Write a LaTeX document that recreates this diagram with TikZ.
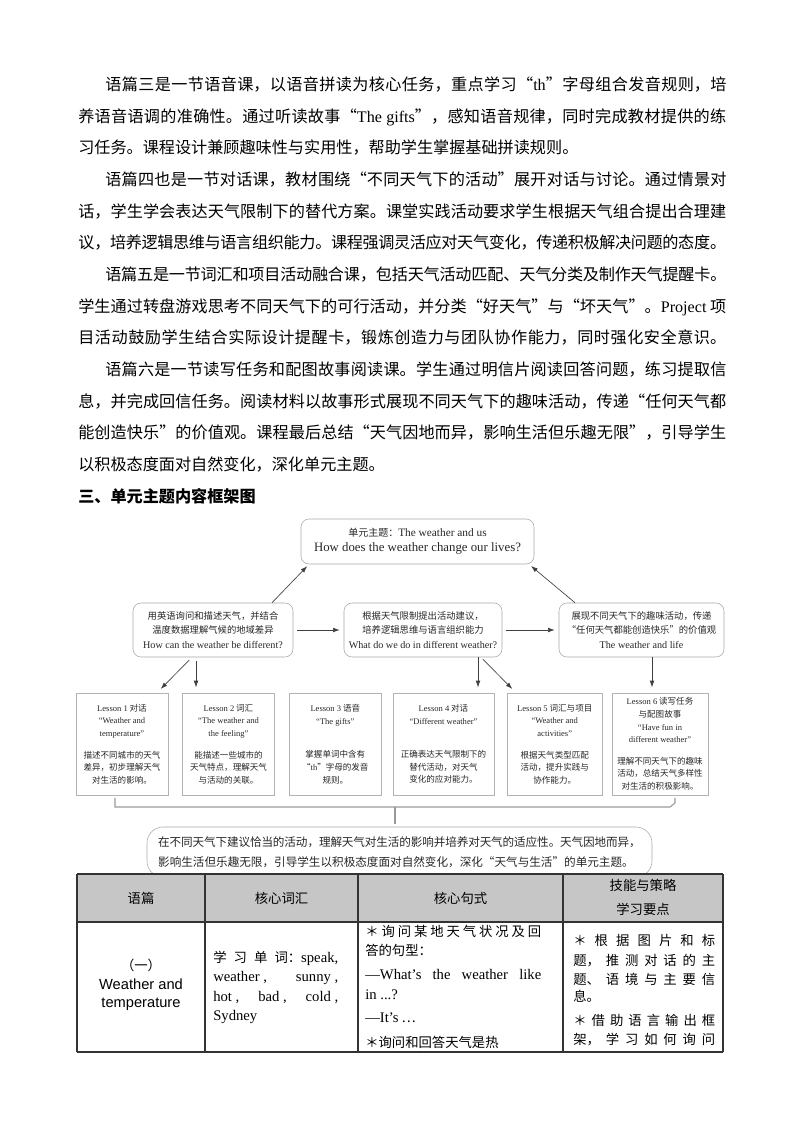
\documentclass[tikz,border=0pt]{standalone}
\usepackage{fontspec}
\setmainfont{Noto Sans CJK SC}
\newfontfamily\en{Liberation Serif}
\newfontfamily\ens{Liberation Sans}
\usetikzlibrary{arrows.meta}
\XeTeXlinebreaklocale "zh"
\XeTeXlinebreakskip=0pt plus 2pt minus 0.4pt
\newcommand\jl[2]{\parbox[b]{#1}{\parfillskip=0pt\relax\noindent #2}}
\newcommand\bl[5]{\node[anchor=base west,inner sep=0pt] (#1) at (#2,#3) {\fontsize{12.1}{14}\selectfont #4{#5}};}
\tikzset{
  rbox/.style={draw=gray!70,rounded corners=6pt,align=center,inner sep=1pt,text=black!85},
  lbox/.style={draw=gray!60,align=center,inner sep=1pt,text=black!85,font=\fontsize{6.4}{9.4}\selectfont},
  arr/.style={-{Latex[length=5pt,width=3.5pt]},draw=black!75,line width=0.5pt},
  brk/.style={draw=gray!80,line width=0.8pt},
  cell/.style={anchor=base west,inner sep=0pt,font=\fontsize{10}{12}\selectfont}
}
\begin{document}
\begin{tikzpicture}[x=0.75pt,y=-0.75pt]
\useasboundingbox (0,0) rectangle (800,1132);
% body text
\bl{p1}{105}{90}{\jl{466pt}}{语篇三是一节语音课，以语音拼读为核心任务，重点学习“{\en th}”字母组合发音规则，培}
\bl{p2}{78}{122}{\jl{486pt}}{养语音语调的准确性。通过听读故事“{\en The gifts}”，感知语音规律，同时完成教材提供的练}
\bl{p3}{78}{153}{}{习任务。课程设计兼顾趣味性与实用性，帮助学生掌握基础拼读规则。}
\bl{p4}{105}{185}{\jl{466pt}}{语篇四也是一节对话课，教材围绕“不同天气下的活动”展开对话与讨论。通过情景对}
\bl{p5}{78}{217}{\jl{486pt}}{话，学生学会表达天气限制下的替代方案。课堂实践活动要求学生根据天气组合提出合理建}
\bl{p6}{78}{248}{\jl{486pt}}{议，培养逻辑思维与语言组织能力。课程强调灵活应对天气变化，传递积极解决问题的态度。}
\bl{p7}{105}{280}{\jl{466pt}}{语篇五是一节词汇和项目活动融合课，包括天气活动匹配、天气分类及制作天气提醒卡。}
\bl{p8}{78}{312}{\jl{486pt}}{学生通过转盘游戏思考不同天气下的可行活动，并分类“好天气”与“坏天气”。{\en Project} 项}
\bl{p9}{78}{343}{\jl{486pt}}{目活动鼓励学生结合实际设计提醒卡，锻炼创造力与团队协作能力，同时强化安全意识。}
\bl{p10}{105}{375}{\jl{466pt}}{语篇六是一节读写任务和配图故事阅读课。学生通过明信片阅读回答问题，练习提取信}
\bl{p11}{78}{407}{\jl{486pt}}{息，并完成回信任务。阅读材料以故事形式展现不同天气下的趣味活动，传递“任何天气都}
\bl{p12}{78}{438}{\jl{486pt}}{能创造快乐”的价值观。课程最后总结“天气因地而异，影响生活但乐趣无限”，引导学生}
\bl{p13}{78}{470}{}{以积极态度面对自然变化，深化单元主题。}
\bl{p14}{78}{502}{\bfseries}{三、单元主题内容框架图}
% diagram boxes
\node[rbox,minimum width=174.75pt,minimum height=33.75pt] (top) at (417.5,541.5)
  {{\fontsize{7.5}{13}\selectfont 单元主题：{\en\fontsize{8.5}{13}\selectfont The weather and us}}\\[-1pt]
   {\en\fontsize{9.6}{12}\selectfont How does the weather change our lives?}};
\node[rbox,minimum width=120pt,minimum height=40.5pt,font=\fontsize{7}{11}\selectfont] (lb) at (213,630)
  {用英语询问和描述天气，并结合\\温度数据理解气候的地域差异\\{\en\fontsize{7.6}{11}\selectfont How can the weather be different?}};
\node[rbox,minimum width=118.5pt,minimum height=40.5pt,font=\fontsize{7}{11}\selectfont] (mb) at (423,630)
  {根据天气限制提出活动建议，\\培养逻辑思维与语言组织能力\\{\en\fontsize{7.6}{11}\selectfont What do we do in different weather?}};
\node[rbox,minimum width=123.75pt,minimum height=40.5pt,font=\fontsize{7}{11}\selectfont] (rb) at (641.5,630)
  {展现不同天气下的趣味活动，传递\\“任何天气都能创造快乐”的价值观\\{\en\fontsize{7.6}{11}\selectfont The weather and life}};
\node[lbox,minimum width=69pt,minimum height=76.5pt] (l1) at (122,744)
  {{\en Lesson 1} 对话\\{\en “Weather and}\\{\en temperature”}\\[7pt]描述不同城市的天气\\差异，初步理解天气\\对生活的影响。};
\node[lbox,minimum width=69pt,minimum height=76.5pt] (l2) at (228.5,744)
  {{\en Lesson 2} 词汇\\{\en “The weather and}\\{\en the feeling”}\\[7pt]能描述一些城市的\\天气特点，理解天气\\与活动的关联。};
\node[lbox,minimum width=68.5pt,minimum height=76.5pt] (l3) at (335.3,744)
  {{\en Lesson 3} 语音\\{\en “The gifts”}\\[16pt]掌握单词中含有\\“{\en th}”字母的发音\\规则。};
\node[lbox,minimum width=75.75pt,minimum height=76.5pt] (l4) at (443.5,744)
  {{\en Lesson 4} 对话\\{\en “Different weather”}\\[16pt]正确表达天气限制下的\\替代活动，对天气\\变化的应对能力。};
\node[lbox,minimum width=70.9pt,minimum height=76.5pt] (l5) at (554.75,744)
  {{\en Lesson 5} 词汇与项目\\{\en “Weather and}\\{\en activities”}\\[7pt]根据天气类型匹配\\活动，提升实践与\\协作能力。};
\node[lbox,minimum width=72pt,minimum height=76.5pt] (l6) at (660,744)
  {{\en Lesson 6} 读写任务\\与配图故事\\{\en “Have fun in}\\{\en different weather”}\\[7pt]理解不同天气下的趣味\\活动，总结天气多样性\\对生活的积极影响。};
\node[rbox,rounded corners=12pt,minimum width=378.75pt,minimum height=37.5pt,font=\fontsize{8.7}{15}\selectfont] (bb) at (399.5,852)
  {\jl{362pt}{在不同天气下建议恰当的活动，理解天气对生活的影响并培养对天气的适应性。天气因地而异，}\\
   \makebox[362pt][l]{影响生活但乐趣无限，引导学生以积极态度面对自然变化，深化“天气与生活”的单元主题。}};
% helper x coordinates
\coordinate (x272) at (272,0); \coordinate (x309) at (309,0);
\coordinate (x575) at (575,0); \coordinate (x529) at (529,0);
\coordinate (x192) at (192,0); \coordinate (x157) at (157,0);
\coordinate (x196) at (196,0); \coordinate (x478) at (478,0);
\coordinate (x481) at (481,0); \coordinate (x516) at (516,0);
\coordinate (x652) at (652,0); \coordinate (x115) at (115,0);
\coordinate (x675) at (675,0); \coordinate (x395) at (395,0);
\coordinate (bk) at (115,807); \coordinate (bk2) at (670,807); \coordinate (bk3) at (675,803);
\coordinate (bkm) at (395,807); \coordinate (bkt) at (395,824);
% arrows
\draw[arr,shorten >=2pt] (lb.north -| x272) -- (top.south -| x309);
\draw[arr,shorten >=2pt] (rb.north -| x575) -- (top.south -| x529);
\draw[arr,shorten <=3pt,shorten >=3pt] (lb.east) -- (mb.west);
\draw[arr,shorten <=3pt,shorten >=3pt] (mb.east) -- (rb.west);
\draw[arr,shorten <=3pt,shorten >=4pt] (lb.south -| x192) -- (l1.north -| x157);
\draw[arr,shorten <=3pt,shorten >=4pt] (lb.south -| x196) -- (l2.north -| x196);
\draw[arr,shorten >=4pt] (mb.south -| x478) -- (l4.north -| x478);
\draw[arr,shorten <=2pt,shorten >=4pt] (mb.south -| x481) -- (l5.north -| x516);
\draw[arr,shorten >=4pt] (rb.south -| x652) -- (l6.north -| x652);
% bracket
\draw[brk] ([yshift=-2pt]l1.south -| x115) -- (bk) -- (bk2) -- (bk3) -- ([yshift=-2pt]l6.south -| x675);
\draw[brk] (bkm) -- (bkt);
% table
\fill[gray!45] (77,874) rectangle (723,922);
\draw[line width=0.9pt,black!80] (77,874) -- (723,874) (77,922) -- (723,922) (77,1052) -- (723,1052);
\draw[line width=0.9pt,black!80] (77,874) -- (77,1052) (205,874) -- (205,1052) (358,874) -- (358,1052) (563,874) -- (563,1052) (723,874) -- (723,1052);
\node[font=\fontsize{10}{12}\selectfont] (h1) at (141,898) {语篇};
\node[font=\fontsize{10}{12}\selectfont] (h2) at (281.5,898) {核心词汇};
\node[font=\fontsize{10}{12}\selectfont] (h3) at (460.5,898) {核心句式};
\node[font=\fontsize{10}{18}\selectfont,align=center] (h4) at (643,897) {技能与策略\\学习要点};
\node[font=\fontsize{10}{14}\selectfont,align=center] (c0) at (141,985) {（一）\\{\ens\fontsize{11}{14}\selectfont Weather and}\\{\ens\fontsize{11}{14}\selectfont temperature}};
\node[cell] (c1a) at (213,962) {\jl{93.75pt}{学习单词：{\en\fontsize{11}{12}\selectfont speak,}}};
\node[cell] (c1b) at (213,981) {\jl{93.75pt}{\en\fontsize{11}{12}\selectfont weather , \hfill sunny ,}};
\node[cell] (c1c) at (213,1001) {\jl{93.75pt}{\en\fontsize{11}{12}\selectfont hot , \hfill bad , \hfill cold ,}};
\node[cell] (c1d) at (213,1020) {\en\fontsize{11}{12}\selectfont Sydney};
\node[cell] (c2a) at (365,936) {\jl{132pt}{＊询问某地天气状况及回}};
\node[cell] (c2b) at (365,955) {答的句型：};
\node[cell] (c2c) at (365,979) {\jl{132pt}{\en\fontsize{11}{12}\selectfont —What’s \hfill the \hfill weather \hfill like}};
\node[cell] (c2d) at (365,999) {\en\fontsize{11}{12}\selectfont in ...?};
\node[cell] (c2e) at (365,1022) {{\en\fontsize{11}{12}\selectfont —It’s} …};
\node[cell] (c2f) at (365,1047) {\jl{100pt}{＊询问和回答天气是热}};
\node[cell] (c3a) at (573,945) {\jl{106.5pt}{＊根据图片和标}};
\node[cell] (c3b) at (573,965) {\jl{106.5pt}{题，推测对话的主}};
\node[cell] (c3c) at (573,984) {\jl{106.5pt}{题、语境与主要信}};
\node[cell] (c3d) at (573,1001) {息。};
\node[cell] (c3e) at (573,1025) {\jl{106.5pt}{＊借助语言输出框}};
\node[cell] (c3f) at (573,1044) {\jl{106.5pt}{架，学习如何询问}};
\end{tikzpicture}
\end{document}
